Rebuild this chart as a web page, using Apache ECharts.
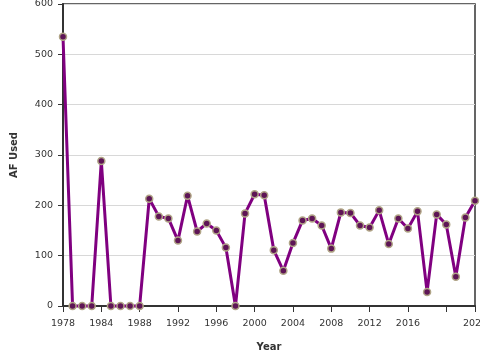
<!DOCTYPE html>
<html><head><meta charset="utf-8">
<script src="https://cdn.jsdelivr.net/npm/echarts@6/dist/echarts.min.js"></script>
<style>html,body{margin:0;padding:0;background:#fff}#c{width:480px;height:360px}</style>
</head><body><div id="c"></div>
<script>
const years = [1980,1981,1982,1983,1984,1985,1986,1987,1988,1989,1990,1991,1992,1993,1994,1995,1996,1997,1998,1999,2000,2001,2002,2003,2004,2005,2006,2007,2008,2009,2010,2011,2012,2013,2014,2015,2016,2017,2018,2019,2020,2021,2022,2023];
const afUsed = [535,0,0,0,288,0,0,0,0,213,178,174,130,219,148,164,150,116,0,184,222,220,111,70,125,170,174,160,114,186,185,160,156,190,123,174,154,188,28,182,162,58,176,209];
const xTickValues = [1980,1984,1988,1992,1996,2000,2004,2008,2012,2016,2020,2023];
const xTickLabels = ['1978','1984','1988','1992','1996','2000','2004','2008','2012','2016','','2023'];
const yTicks = [0,100,200,300,400,500,600];

const chart = echarts.init(document.getElementById('c'), null, {renderer:'canvas'});
const font = 'DejaVu Sans';
chart.setOption({
  animation:false,
  grid:{left:63,right:5,top:4,bottom:54,containLabel:false,outerBoundsMode:'none',show:true,borderColor:'#333',borderWidth:1.5,backgroundColor:'transparent'},
  xAxis:{
    type:'value', min:xTickValues[0], max:xTickValues[xTickValues.length-1], interval:4,
    name:'Year', nameLocation:'middle', nameGap:36,
    nameTextStyle:{fontFamily:font,fontSize:10,fontWeight:'bold',color:'#333'},
    axisLine:{show:true,lineStyle:{color:'#333',width:2}},
    axisTick:{show:true,length:6,lineStyle:{color:'#333'}},
    axisLabel:{fontFamily:font,fontSize:9.5,color:'#333',margin:13,
      formatter:v=>{const i=xTickValues.indexOf(v);return i>=0?xTickLabels[i]:'';}},
    splitLine:{show:false}
  },
  yAxis:{
    type:'value', min:yTicks[0], max:yTicks[yTicks.length-1], interval:100,
    name:'AF Used', nameLocation:'middle', nameGap:44, nameRotate:90,
    nameTextStyle:{fontFamily:font,fontSize:10,fontWeight:'bold',color:'#333'},
    axisLine:{show:true,lineStyle:{color:'#333',width:2}},
    axisTick:{show:true,length:5,lineStyle:{color:'#333'}},
    axisLabel:{fontFamily:font,fontSize:9.5,color:'#333',margin:10},
    splitLine:{show:true,lineStyle:{color:'#d8d8d8',width:1}}
  },
  series:[{
    type:'line',
    data:years.map((y,i)=>[y,afUsed[i]]),
    lineStyle:{color:'#800080',width:3},
    symbol:'circle', symbolSize:7,
    itemStyle:{color:'#5e1556',borderColor:'#b0a486',borderWidth:1.5},
    clip:false
  }]
});
</script></body></html>
